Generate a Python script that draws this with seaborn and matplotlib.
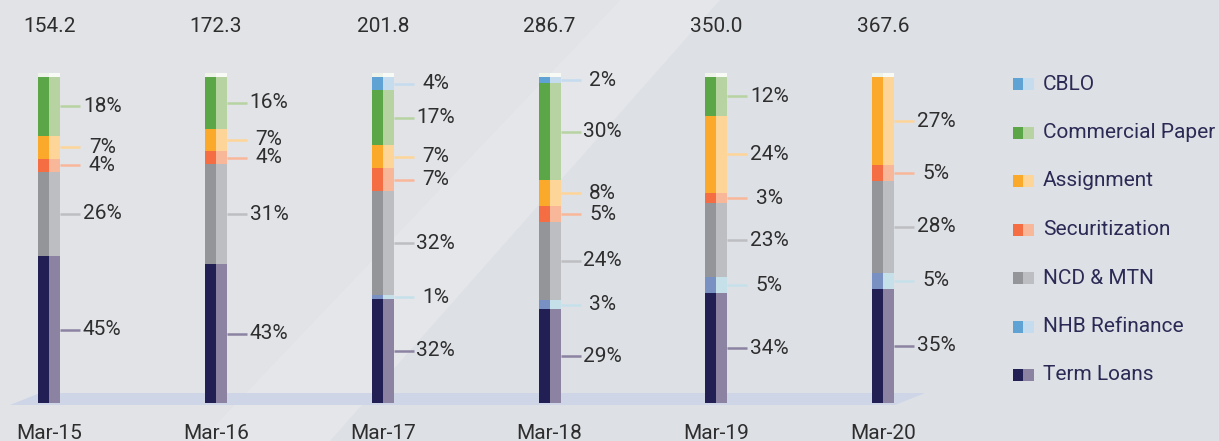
import pandas as pd
import matplotlib.pyplot as plt
import seaborn as sns
from matplotlib.patches import Rectangle, Polygon

# --- data ---
periods = ['Mar-15', 'Mar-16', 'Mar-17', 'Mar-18', 'Mar-19', 'Mar-20']
totals = [154.2, 172.3, 201.8, 286.7, 350.0, 367.6]

term_loans = [45, 43, 32, 29, 34, 35]
nhb_refinance = [0, 0, 1, 3, 5, 5]
ncd_mtn = [26, 31, 32, 24, 23, 28]
securitization = [4, 4, 7, 5, 3, 5]
assignment = [7, 7, 7, 8, 24, 27]
commercial_paper = [18, 16, 17, 30, 12, 0]
cblo = [0, 0, 4, 2, 0, 0]

# bottom -> top stacking order
segments = ['Term Loans', 'NHB Refinance', 'NCD & MTN', 'Securitization',
            'Assignment', 'Commercial Paper', 'CBLO']
legend_order = ['CBLO', 'Commercial Paper', 'Assignment', 'Securitization',
                'NCD & MTN', 'NHB Refinance', 'Term Loans']

dark = {'Term Loans': '#221f54', 'NHB Refinance': '#7890c2', 'NCD & MTN': '#939598',
        'Securitization': '#f46d43', 'Assignment': '#fba92b',
        'Commercial Paper': '#5ba647', 'CBLO': '#5fa3d5'}
light = {'Term Loans': '#8b83a1', 'NHB Refinance': '#c6e0ea', 'NCD & MTN': '#bdbec2',
         'Securitization': '#f9b79a', 'Assignment': '#fdd598',
         'Commercial Paper': '#b7d3a2', 'CBLO': '#c5dcef'}
legend_dark = dict(dark, **{'NHB Refinance': '#5fa3d5'})
legend_light = dict(light, **{'NHB Refinance': '#c5dcef'})

shares = pd.DataFrame({'Term Loans': term_loans, 'NHB Refinance': nhb_refinance,
                       'NCD & MTN': ncd_mtn, 'Securitization': securitization,
                       'Assignment': assignment, 'Commercial Paper': commercial_paper,
                       'CBLO': cblo}, index=periods)[segments]
norm = shares.div(shares.sum(axis=1), axis=0) * 100
cum = norm.cumsum(axis=1)

# pixel layout helpers (figure is 1219 x 441 px, axes fill it)
W, H = 1219, 441
X0, XSTEP = 49.2, 166.8      # px of first bar centre, px per category
YTOP, YSTEP = 77, 3.26       # px of 100 %, px per percent


def px_x(px):
    return (px - X0) / XSTEP


def px_y(py):
    return 100 - (py - YTOP) / YSTEP


BAR_W = 22 / XSTEP
FS = 15
TXT = '#2e2e2e'

sns.set_theme(style='white')
plt.rcParams['font.family'] = ['Roboto', 'DejaVu Sans']

fig, ax = plt.subplots(figsize=(W / 100, H / 100), dpi=100)
ax.set_position([0, 0, 1, 1])
fig.patch.set_facecolor('#dde0e5')

# soft lighter diagonal in the background
ax.add_patch(Polygon([(0, 1), (620 / W, 1), (200 / W, 0), (0, 0)],
                     transform=ax.transAxes, color='#e1e3e7', zorder=0.1, lw=0))
ax.add_patch(Polygon([(620 / W, 1), (720 / W, 1), (330 / W, 0), (200 / W, 0)],
                     transform=ax.transAxes, color='#e4e6ea', zorder=0.1, lw=0))

# floor band
ax.add_patch(Polygon([(px_x(10), px_y(405)), (px_x(40), px_y(393)),
                      (px_x(925), px_y(393)), (px_x(895), px_y(405))],
                     color='#cdd5e7', zorder=0.5, lw=0))

# stacked bars: draw cumulative tops from the highest down, two faces per bar
for seg in reversed(segments):
    long = pd.DataFrame({'period': periods * 2,
                         'face': ['left'] * len(periods) + ['right'] * len(periods),
                         'top': list(cum[seg]) * 2})
    sns.barplot(data=long, x='period', y='top', hue='face', order=periods,
                hue_order=['left', 'right'],
                palette={'left': dark[seg], 'right': light[seg]},
                width=BAR_W, gap=0, dodge=True, saturation=1, linewidth=0,
                errorbar=None, legend=False, ax=ax, zorder=2)

# top caps
for i in range(len(periods)):
    ax.add_patch(Rectangle((i - BAR_W / 2, 100), BAR_W / 2, 1.3,
                           color='#eef3ea', lw=0, zorder=3))
    ax.add_patch(Rectangle((i, 100), BAR_W / 2, 1.3,
                           color='#f8faf6', lw=0, zorder=3))

# segment labels with leader lines
for i, p in enumerate(periods):
    for seg in segments:
        v = shares.loc[p, seg]
        if v <= 0:
            continue
        mid = cum.loc[p, seg] - norm.loc[p, seg] / 2
        ax.plot([i + BAR_W / 2, i + 31 / XSTEP], [mid, mid],
                color=light[seg], lw=1.8, zorder=1.5, solid_capstyle='butt')
        ax.text(i + 53 / XSTEP, mid, f'{v}%', ha='center', va='center',
                fontsize=FS, color=TXT, zorder=4)
    ax.text(i, px_y(26), f'{totals[i]:.1f}', ha='center',
            va='center', fontsize=FS, color=TXT)
    ax.text(i, px_y(439), p, ha='center', va='baseline', fontsize=FS, color=TXT)

# legend with two-faced markers
for k, seg in enumerate(legend_order):
    yc = 1 - (84 + k * 48.5) / H
    ax.add_patch(Rectangle((1013 / W, yc - 6 / H), 10 / W, 12 / H,
                           transform=ax.transAxes, color=legend_dark[seg], lw=0))
    ax.add_patch(Rectangle((1023 / W, yc - 6 / H), 11 / W, 12 / H,
                           transform=ax.transAxes, color=legend_light[seg], lw=0))
    ax.text(1043 / W, yc, seg, transform=ax.transAxes, ha='left', va='center',
            fontsize=FS, color='#2b2a55')

ax.set_xlim(px_x(0), px_x(W))
ax.set_ylim(px_y(H), px_y(0))
ax.set_axis_off()

fig.savefig('out.png', dpi=100, facecolor=fig.get_facecolor())
